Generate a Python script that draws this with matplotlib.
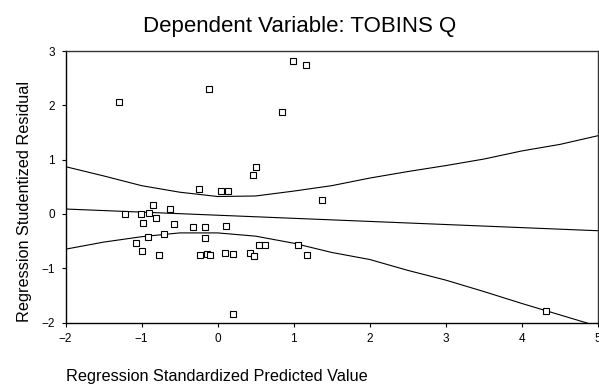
import matplotlib
matplotlib.use("Agg")
import matplotlib.pyplot as plt

plt.rcParams['font.family'] = ['Liberation Sans', 'DejaVu Sans']

# scatter points: standardized predicted value vs studentized residual
pred = [-1.30, -0.11, 0.99, 1.16, 0.85, 0.51,
        0.46, -0.24, 0.04, 0.13, 1.37, -0.85, -0.62, -1.22, -1.01, -0.90,
        -0.81, -0.98, -0.57, -0.33, -0.17, 0.11, -0.71, -0.92, -0.17, -1.07,
        -0.99, -0.77, -0.23, -0.14, -0.10, 0.10, 0.20, 0.42, 0.48, 0.55,
        0.62, 1.05, 1.17, 0.20, 4.32]
resid = [2.06, 2.30, 2.81, 2.75, 1.87, 0.86,
         0.71, 0.45, 0.42, 0.43, 0.26, 0.16, 0.09, -0.01, -0.01, 0.01,
         -0.08, -0.17, -0.18, -0.24, -0.24, -0.23, -0.37, -0.42, -0.45, -0.53,
         -0.68, -0.76, -0.76, -0.74, -0.76, -0.72, -0.74, -0.72, -0.78, -0.57,
         -0.57, -0.57, -0.76, -1.85, -1.78]

# fit line and band
fit_x = [-2, 5]
fit_y = [0.09, -0.31]

band_x = [-2, -1.5, -1, -0.5, 0, 0.5, 1, 1.5, 2, 2.5, 3, 3.5, 4, 4.5, 5]
upper = [0.87, 0.70, 0.52, 0.40, 0.32, 0.33, 0.42, 0.52, 0.66, 0.78, 0.89,
         1.01, 1.16, 1.28, 1.44]
lower = [-0.65, -0.52, -0.42, -0.35, -0.35, -0.41, -0.54, -0.71, -0.84,
         -1.04, -1.22, -1.43, -1.65, -1.86, -2.07]

xticks = [-2, -1, 0, 1, 2, 3, 4, 5]
yticks = [-2, -1, 0, 1, 2, 3]

fig = plt.figure(figsize=(5.99, 3.85), dpi=100)
ax = fig.add_axes([65.5/599, 1 - 322.5/385, (598 - 65.5)/599, (322.5 - 51)/385])

ax.plot(fit_x, fit_y, color='black', lw=0.8)
ax.plot(band_x, upper, color='black', lw=0.8)
ax.plot(band_x, lower, color='black', lw=0.8)
ax.plot(pred, resid, linestyle='none', marker='s', markersize=4.3,
        markerfacecolor='white', markeredgecolor='black', markeredgewidth=0.8)

ax.set_xlim(-2, 5)
ax.set_ylim(-2, 3)
ax.set_xticks(xticks)
ax.set_yticks(yticks)
ax.tick_params(direction='out', length=3, width=0.8, labelsize=8.5, pad=4.5)
for s in ['left', 'bottom']:
    ax.spines[s].set_linewidth(1.0)
    ax.spines[s].set_color('black')
for s in ['top', 'right']:
    ax.spines[s].set_linewidth(1.0)
    ax.spines[s].set_color('#333333')

fig.text(0.5, 1 - 32.3/385, 'Dependent Variable: TOBINS Q', ha='center',
         va='baseline', fontsize=16)
fig.text(66/599, 1 - 381/385, 'Regression Standardized Predicted Value',
         ha='left', va='baseline', fontsize=11.7)
fig.text(25/599, 1 - 81/385, 'Regression Studentized Residual', rotation=90,
         ha='center', va='top', fontsize=11.7)

fig.savefig('out.png', dpi=100)
